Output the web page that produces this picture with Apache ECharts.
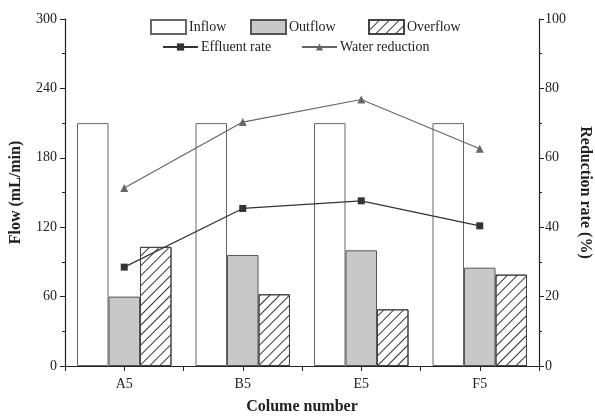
<!DOCTYPE html>
<html><head><meta charset="utf-8">
<script src="https://cdn.jsdelivr.net/npm/echarts@6/dist/echarts.min.js"></script>
<style>html,body{margin:0;padding:0;background:#fff}#c{width:595px;height:416px}</style>
</head><body><div id="c"></div>
<script>
const categories = ['A5', 'B5', 'E5', 'F5'];
const inflow = [210, 210, 210, 210];
const outflow = [60, 96, 100, 85];
const overflow = [103, 62, 49, 79];
const effluentRate = [28.5, 45.4, 47.6, 40.4];
const waterReduction = [51.3, 70.3, 76.8, 62.6];
const leftTicks = [0, 60, 120, 180, 240, 300];
const rightTicks = [0, 20, 40, 60, 80, 100];

const F = 'Liberation Serif';
const chart = echarts.init(document.getElementById('c'), null, {renderer: 'canvas'});
const txt = {fontFamily: F, fontSize: 14, color: '#222'};
function leg(name, left, top, isLine) {
  return {data: [name], left: left, top: top, itemWidth: 35, itemHeight: isLine ? 9 : 14, itemGap: 0,
    icon: isLine ? undefined : 'rect',
    textStyle: Object.assign({}, txt, {padding: [0, 0, 0, -2]}), padding: 0, selectedMode: false};
}
const axisLine = {show: true, lineStyle: {color: '#222', width: 1.2}};
chart.setOption({
  animation: false,
  backgroundColor: '#fff',
  grid: {left: 65, right: 56, top: 19, bottom: 50, outerBoundsMode: 'none', containLabel: false},
  legend: [
    leg('Inflow', 150, 19),
    leg('Outflow', 250, 19),
    leg('Overflow', 368, 19),
    leg('Effluent rate', 162, 40, true),
    leg('Water reduction', 301, 40, true)
  ],
  xAxis: [{
    type: 'category', data: categories, position: 'bottom',
    axisLine: axisLine,
    axisTick: {show: true, alignWithLabel: true, length: 5, lineStyle: {color: '#222'}},
    axisLabel: Object.assign({}, txt, {margin: 11}),
    name: 'Colume number', nameLocation: 'middle', nameGap: 33,
    nameTextStyle: {fontFamily: F, fontSize: 16, fontWeight: 'bold', color: '#222'}
  }, {
    type: 'category', data: categories, position: 'bottom',
    axisLine: {show: false},
    axisTick: {show: true, length: 5, lineStyle: {color: '#222'}},
    axisLabel: {show: false}
  }],
  yAxis: [{
    type: 'value', min: 0, max: 300, interval: 60, position: 'left',
    axisLine: axisLine,
    axisTick: {show: true, length: 5, lineStyle: {color: '#222'}},
    minorTick: {show: true, splitNumber: 2, length: 3, lineStyle: {color: '#222'}},
    splitLine: {show: false},
    axisLabel: Object.assign({}, txt, {margin: 8,
      formatter: v => leftTicks.includes(v) ? String(v) : ''}),
    name: 'Flow (mL/min)', nameLocation: 'middle', nameGap: 41, nameRotate: 90,
    nameTextStyle: {fontFamily: F, fontSize: 16, fontWeight: 'bold', color: '#222'}
  }, {
    type: 'value', min: 0, max: 100, interval: 20, position: 'right',
    axisLine: axisLine,
    axisTick: {show: true, length: 5, lineStyle: {color: '#222'}},
    minorTick: {show: true, splitNumber: 2, length: 3, lineStyle: {color: '#222'}},
    splitLine: {show: false},
    axisLabel: Object.assign({}, txt, {margin: 6,
      formatter: v => rightTicks.includes(v) ? String(v) : ''}),
    name: 'Reduction rate (%)', nameLocation: 'middle', nameGap: 36, nameRotate: -90,
    nameTextStyle: {fontFamily: F, fontSize: 16, fontWeight: 'bold', color: '#222'}
  }],
  series: [{
    name: 'Inflow', type: 'bar', data: inflow, barWidth: 31.5, barGap: '0%',
    itemStyle: {color: '#fff', borderColor: '#666', borderWidth: 1}
  }, {
    name: 'Outflow', type: 'bar', data: outflow, barWidth: 31.5, barGap: '0%',
    itemStyle: {color: '#c8c8c8', borderColor: '#555', borderWidth: 1}
  }, {
    name: 'Overflow', type: 'bar', data: overflow, barWidth: 31.5, barGap: '0%',
    itemStyle: {color: '#fff', borderColor: '#444', borderWidth: 1,
      decal: {symbol: 'rect', dashArrayX: [1, 0], dashArrayY: [1, 6], rotation: -Math.PI / 4, color: '#333', symbolSize: 1}}
  }, {
    name: 'Effluent rate', type: 'line', yAxisIndex: 1, data: effluentRate,
    symbol: 'rect', symbolSize: 7,
    lineStyle: {color: '#333', width: 1.2}, itemStyle: {color: '#333'}
  }, {
    name: 'Water reduction', type: 'line', yAxisIndex: 1, data: waterReduction,
    symbol: 'triangle', symbolSize: 8,
    lineStyle: {color: '#666', width: 1.2}, itemStyle: {color: '#666'}
  }]
});
</script></body></html>
